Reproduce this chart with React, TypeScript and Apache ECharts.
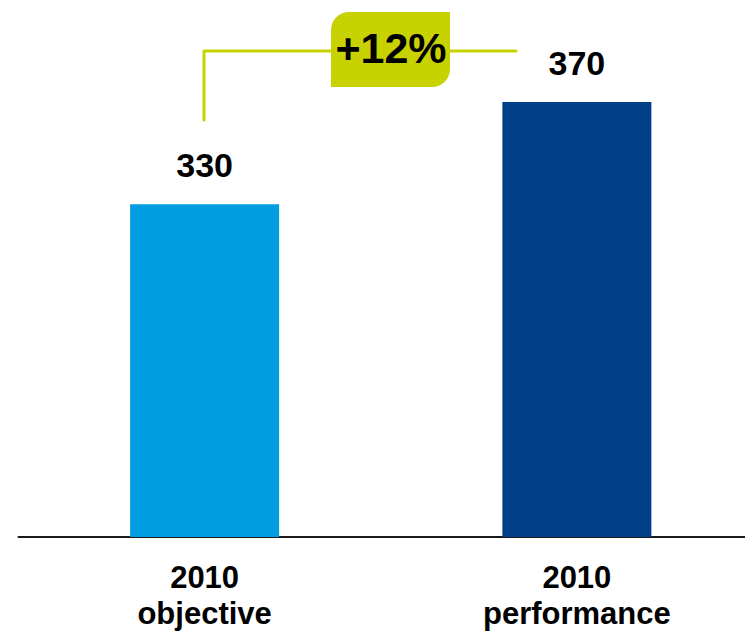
import React, { useEffect, useRef } from "react";
import * as echarts from "echarts";

const categories = ["2010\nobjective", "2010\nperformance"];
const values = [330, 370];
const barColors = ["#009ee0", "#003f87"];
const changeLabel = "+12%";

const FONT = "Arial, 'Liberation Sans', sans-serif";
const GREEN = "#c8d200";

export default function App() {
  const ref = useRef<HTMLDivElement>(null);

  useEffect(() => {
    if (!ref.current) return;
    const chart = echarts.init(ref.current, undefined, { renderer: "svg" });
    chart.setOption({
      animation: false,
      grid: { left: 18.5, right: 0, top: 102, height: 435, containLabel: false },
      xAxis: {
        type: "category",
        data: categories,
        axisLine: { show: true, lineStyle: { color: "#1a1a1a", width: 2 } },
        axisTick: { show: false },
        axisLabel: {
          margin: 22,
          color: "#000",
          fontFamily: FONT,
          fontWeight: "bold",
          fontSize: 31,
          lineHeight: 36,
        },
      },
      yAxis: {
        type: "value",
        min: 200,
        max: 370,
        show: false,
        splitLine: { show: false },
      },
      series: [
        {
          type: "bar",
          barWidth: 149,
          data: values.map((v, i) => ({ value: v, itemStyle: { color: barColors[i] } })),
          label: {
            show: true,
            position: "top",
            distance: 22,
            color: "#000",
            fontFamily: FONT,
            fontWeight: "bold",
            fontSize: 34,
          },
        },
      ],
      graphic: [
        {
          type: "polyline",
          shape: { points: [[204, 120], [204, 51], [516, 51]] },
          style: { stroke: GREEN, lineWidth: 3, fill: null, lineCap: "round", lineJoin: "round" },
        },
        {
          type: "rect",
          shape: { x: 331, y: 12, width: 119, height: 75, r: [18, 0, 18, 0] },
          style: { fill: GREEN },
        },
        {
          type: "text",
          x: 391,
          y: 48,
          style: {
            text: changeLabel,
            fill: "#000",
            font: `bold 43px ${FONT}`,
            align: "center",
            verticalAlign: "middle",
          },
        },
      ],
    });
    return () => chart.dispose();
  }, []);

  // The plot runs a little past the right edge, so the frame crops it.
  return (
    <div
      style={{
        position: "fixed",
        left: 0,
        top: 0,
        width: 745,
        height: 631,
        overflow: "hidden",
        background: "#fff",
      }}
    >
      <div ref={ref} style={{ width: 763, height: 631 }} />
    </div>
  );
}
